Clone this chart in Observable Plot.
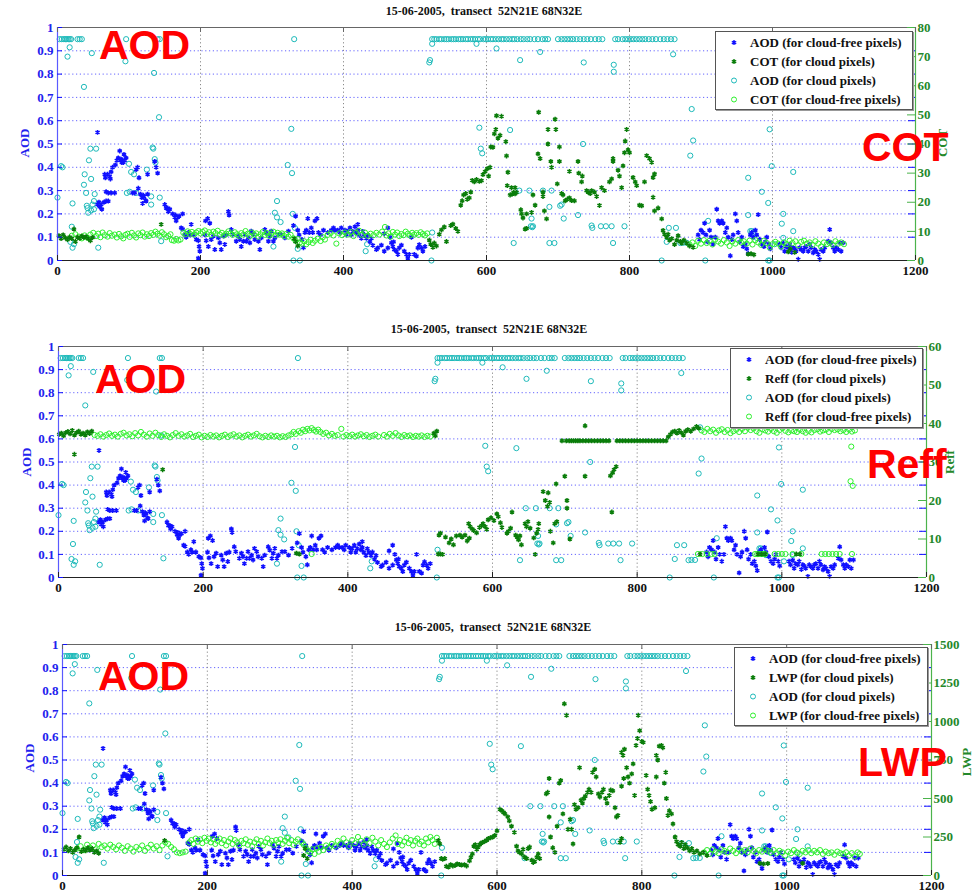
<!DOCTYPE html>
<html><head><meta charset="utf-8">
<script src="https://cdn.jsdelivr.net/npm/d3@7"></script>
<script src="https://cdn.jsdelivr.net/npm/@observablehq/plot@0.6"></script>
<style>
body{margin:0;background:#fff;width:974px;height:893px;position:relative;overflow:hidden;font-family:"Liberation Serif",serif;}
.panel{position:absolute;left:0;}
.title{position:absolute;font:bold 12px "Liberation Serif",serif;color:#111;white-space:pre;transform:translateX(-50%);}
.big{position:absolute;font:bold 41px "Liberation Sans",Arial,sans-serif;color:#ff0000;line-height:1;white-space:pre;}
.ylab{position:absolute;font:bold 13px "Liberation Serif",serif;transform:translate(-50%,-50%) rotate(-90deg);white-space:pre;}
.legend{position:absolute;background:#fff;border:1.5px solid #555;box-shadow:1px 1px 0 #999;font:bold 13px "Liberation Serif",serif;color:#111;}
.lrow{position:absolute;left:0;height:19px;display:flex;align-items:center;white-space:pre;}
</style></head><body>
<script>
// ---------- DATA ----------
const xTicks = [0, 200, 400, 600, 800, 1000, 1200];
const aodTicks = [0, 0.1, 0.2, 0.3, 0.4, 0.5, 0.6, 0.7, 0.8, 0.9, 1];
const cotTicks = [0, 10, 20, 30, 40, 50, 60, 70, 80];
const reffTicks = [0, 10, 20, 30, 40, 50, 60];
const lwpTicks = [0, 250, 500, 750, 1000, 1250, 1500];
const titleText = "15-06-2005,  transect  52N21E 68N32E";

// AOD for cloud-free pixels [x, AOD]
const aodFree = [[56,0.55],[56,0.24],[58,0.25],[59,0.23],[61,0.24],[62,0.22],[65,0.25],[68,0.255],[71,0.255],
[66,0.37],[67,0.355],[70,0.37],[73,0.36],[74,0.35],[68,0.295],[71,0.29],[75,0.29],[80,0.29],
[75,0.38],[77,0.40],[81,0.41],[83,0.43],[85,0.44],[87,0.47],[88,0.43],[90,0.42],[91,0.43],[94,0.43],[96,0.44],[93,0.455],[89,0.435],[92,0.42],
[105,0.29],[108,0.29],[110,0.39],[112,0.40],[114,0.355],[113,0.31],[116,0.285],[118,0.27],[121,0.275],[123,0.258],[124,0.255],[126,0.285],[119,0.245],[120,0.28],[126,0.37],
[136,0.425],[138,0.40],[140,0.375],[150,0.24],[152,0.225],[154,0.225],[155,0.21],[157,0.22],
[161,0.2],[164,0.185],[165,0.195],[168,0.185],[166,0.17],[170,0.19],[175,0.2],[173,0.14],[175,0.135],[178,0.11],[180,0.10],[183,0.12],[185,0.11],
[187,0.155],[190,0.11],[194,0.09],[197,0.085],[198,0.06],[199,0.04],[197,0.01],[207,0.17],[210,0.18],[213,0.16],
[206,0.11],[208,0.085],[211,0.06],[215,0.09],[218,0.105],[220,0.047],[225,0.097],[227,0.076],[232,0.105],[234,0.069],[236,0.11],[229,0.047],
[239,0.21],[240,0.195],[243,0.133],[245,0.112],[250,0.083],[253,0.105],[255,0.09],[257,0.06],[260,0.083],[262,0.112],[264,0.083],[267,0.097],[269,0.076],[271,0.126],[274,0.112],[276,0.09],[281,0.083],[283,0.047],[285,0.097],[290,0.133],[292,0.119],[295,0.083],[297,0.105],[299,0.126],[302,0.083],[304,0.097],[309,0.112],[313,0.112],[318,0.097],[323,0.126],
[330,0.15],[333,0.19],[336,0.13],[338,0.11],[342,0.09],[344,0.055],[346,0.12],[348,0.13],[350,0.18],[352,0.12],[355,0.14],[357,0.12],[360,0.17],[363,0.18],[365,0.12],[368,0.11],[372,0.13],[378,0.12],
[383,0.13],[386,0.14],[388,0.13],[392,0.13],[395,0.12],[397,0.14],[402,0.13],[404,0.11],[406,0.125],[409,0.14],[411,0.11],[413,0.125],[416,0.145],[418,0.12],[420,0.155],[420,0.13],[422,0.11],[425,0.095],[427,0.125],[429,0.11],[432,0.095],[434,0.11],[437,0.08],[439,0.095],
[441,0.065],[446,0.047],[448,0.054],[453,0.066],[457,0.115],[457,0.04],[462,0.14],[462,0.054],[465,0.1],[467,0.076],[469,0.06],[470,0.08],[471,0.047],[474,0.04],[476,0.026],[478,0.054],[481,0.066],[485,0.04],[488,0.026],[490,0.01],[492,0.026],[495,0.1],[499,0.026],[502,0.019],[504,0.054],[506,0.068],[509,0.054],[511,0.04],[514,0.06],
[896,0.11],[898,0.09],[900,0.13],[903,0.12],[905,0.16],[907,0.11],[909,0.08],[912,0.13],[914,0.1],[917,0.07],[920,0.1],[922,0.22],[924,0.17],[926,0.16],[929,0.17],[931,0.16],[934,0.12],[936,0.14],[938,0.1],[941,0.02],[943,0.09],[945,0.11],[948,0.2],[950,0.17],[952,0.12],[954,0.08],[957,0.1],[959,0.06],[962,0.07],[964,0.05],[966,0.03],[969,0.11],[971,0.12],[973,0.1],[976,0.13],[978,0.11],[980,0.197],[982,0.09],[985,0.07],[988,0.06],[990,0.08],[992,0.1],[995,0.07],[997,0.05],
[1010,0.07],[1012,0.055],[1015,0.075],[1017,0.04],[1019,0.06],[1022,0.055],[1024,0.07],[1027,0.035],[1029,0.055],[1031,0.05],[1033,0.04],[1036,0.005],[1038,0.055],[1040,0.047],[1043,0.04],[1045,0.055],[1047,0.06],[1050,0.04],[1052,0.07],[1054,0.055],[1057,0.033],[1059,0.047],[1061,0.04],[1064,0.026],[1066,0.005],[1068,0.047],[1071,0.04],[1073,0.055],[1078,0.083],[1080,0.133],[1082,0.076],[1085,0.055],[1087,0.04],[1089,0.055],[1092,0.047],[1094,0.076],[1096,0.04],[1099,0.076]];

// AOD for cloud pixels [x, AOD]
const aodCloud = [[3,.95],[6,.95],[9,.95],[11,.95],[13,.95],[15,.95],[17,.95],[19,.95],[28,.95],[31,.95],[34,.95],[96,.95],[140,.95],[143,.95],[331,.95],
[524,.95],[527,.95],[530,.95],[534,.95],[537,.95],[541,.95],[544,.95],[547,.95],[551,.95],[554,.95],[557,.95],[561,.95],[564,.95],[567,.95],[571,.95],[574,.95],[578,.95],[581,.95],[584,.95],[588,.95],[591,.95],[596,.95],[599,.95],[602,.95],[606,.95],[609,.95],[613,.95],[617,.95],[621,.95],[624,.95],[628,.95],[632,.95],[636,.95],[639,.95],[643,.95],[648,.95],[652,.95],[657,.95],[661,.95],[667,.95],[672,.95],[678,.95],[682,.95],[686,.95],
[700,.95],[705,.95],[709,.95],[713,.95],[717,.95],[721,.95],[726,.95],[731,.95],[736,.95],[741,.95],[746,.95],[752,.95],[757,.95],[762,.95],
[780,.95],[784,.95],[790,.95],[794,.95],[798,.95],[802,.95],[806,.95],[810,.95],[814,.95],[818,.95],[822,.95],[827,.95],[832,.95],[837,.95],[843,.95],[848,.95],[853,.95],[858,.95],[863,.95],
[14,0.875],[17,0.915],[48,0.89],[95,0.855],[135,0.805],[520,0.85],[521,0.86],[524,0.93],[586,0.93],[614,0.91],[647,0.86],[675,0.895],[736,0.85],[778,0.84],[778,0.81],[861,0.885],[37,0.745],[142,0.615],
[0,0.27],[5,0.405],[7,0.40],[20,0.145],[21,0.245],[18,0.08],[21,0.055],[23,0.07],[37,0.325],[40,0.29],[41,0.235],[42,0.225],[43,0.205],[38,0.37],[44,0.43],[46,0.48],[47,0.35],[54,0.48],[52,0.285],[51,0.255],[49,0.24],[51,0.22],[47,0.215],[57,0.055],[100,0.415],[103,0.38],[107,0.37],[97,0.29],[101,0.295],[110,0.29],[125,0.39],[131,0.275],[131,0.24],[133,0.485],[134,0.48],[136,0.435],[137,0.42],[143,0.27],[145,0.083],
[302,0.06],[304,0.205],[307,0.255],[307,0.185],[312,0.165],[322,0.41],[327,0.565],[328,0.375],[329,0.2],[332,0.14],[336,0.05],[330,0.0],[339,0.0],[431,0.04],[433,0.07],[523,0.0],[524,0.12],
[590,0.57],[592,0.48],[594,0.46],[633,0.56],[735,0.50],[646,0.30],[660,0.30],[679,0.30],[691,0.30],[688,0.23],[703,0.235],[705,0.24],[708,0.18],[728,0.195],[748,0.14],[747,0.15],[760,0.147],[767,0.147],[775,0.147],[793,0.147],[662,0.147],[665,0.147],[638,0.075],[688,0.075],[695,0.075],[777,0.075],[845,0.0],[852,0.08],[855,0.14],[865,0.14],[871,0.075],[875,0.076],[880,0.076],[887,0.65],[889,0.515],[885,0.45],[906,0.0],[910,0.17],[966,0.355],[966,0.195],[969,0.126],[971,0.126],[973,0.12],[978,0.097],[985,0.295],[994,0.247],[996,0.563],[999,0.405],[1029,0.38],[1015,0.2],[1013,0.158],[1029,0.126],[1015,0.097],[994,0.0],[996,0.0],[1003,0.07],[664,0.143],[663,0.18]];

// COT for cloud pixels [x, COT]
const cotCloud = [[2,8.5],[5,7.5],[8,8.8],[11,7.8],[14,7.2],[17,8.0],[20,7.5],[23,10.8],[25,6.5],[28,8.0],[31,7.6],[34,8.4],[37,7.9],[40,8.2],[43,7.5],[46,6.8],[49,7.9],[145,12.4],[331,7.5],[333,6.5],[336,5.0],
[520,7.0],[522,5.5],[525,4.5],[527,6.0],[530,5.0],[534,9.0],[537,10.5],[541,11.5],[544,6.5],[550,12.0],[553,12.5],[557,11.0],[560,10.0],[564,19.0],[566,20.5],[568,22.5],[571,23.0],[573,21.0],[576,21.5],[578,23.5],[580,27.5],[583,27.0],[586,27.8],[590,27.2],[593,27.4],[595,29.5],[598,30.5],[601,31.5],[605,32.0],[603,29.0],[606,39.0],[609,38.9],[611,43.5],[613,45.0],[616,42.0],[619,43.0],[614,49.7],[621,49.5],[627,40.8],[628,35.9],[630,30.3],[629,25.7],[633,22.5],[636,22.8],[638,23.4],[640,22.9],[642,23.4],[635,25.0],[640,25.0],[648,17.4],[649,16.0],[651,14.6],[656,16.0],[663,16.5],[654,10.8],[656,11.0],[665,22.5],[668,19.0],[673,50.9],[672,36.6],[675,35.0],[679,22.0],[679,23.5],[681,17.0],[684,14.3],[686,45.0],[686,40.0],[690,34.0],[691,32.0],[696,48.5],[697,45.0],[699,26.3],[702,39.0],[702,34.0],[705,23.0],[707,22.5],[710,20.5],[713,21.0],[716,21.5],[719,20.6],[723,20.5],[716,30.6],[728,34.0],[729,30.0],[733,27.0],[734,29.0],[740,24.0],[742,23.5],[745,23.0],[747,24.0],[751,23.5],[754,22.0],[758,18.9],[761,25.0],[765,24.0],[772,27.0],[775,28.0],[777,34.0],[777,35.0],[784,31.0],[786,29.0],[789,25.0],[791,32.5],[793,37.0],[794,41.0],[796,45.0],[798,38.0],[800,37.0],[805,28.5],[808,27.0],[810,25.7],[814,19.0],[817,18.8],[821,27.0],[824,36.0],[828,35.0],[831,33.7],[833,28.5],[835,29.7],[833,21.7],[835,17.0],[840,18.0],[845,14.3],[847,10.3],[849,9.0],[852,8.0],[854,9.0],[856,7.0],[859,7.5],[863,5.5],[866,7.0],[868,8.5],[871,6.5],[873,6.0],[876,7.0],[880,6.0],[884,5.0],[889,4.5],
[966,2.2],[970,2.3],[974,2.0],[1022,3.0],[1025,4.0],[1031,2.8]];

// COT for cloud-free pixels [x, COT]
const cotFree = [[20,8.5],[25,9.0],[30,8.2],[34,7.6],[38,8.6],[42,7.8],[46,8.9],[50,9.5],[54,8.4],[57,9.2],[60,8.0],[63,9.6],[66,8.7],[70,8.2],[73,9.4],[76,8.5],[80,8.9],[83,7.9],[86,9.1],[89,8.3],[92,7.6],[95,8.8],[98,9.2],[101,8.1],[104,9.5],[107,8.6],[110,7.9],[113,9.3],[116,8.7],[119,9.6],[122,8.2],[125,9.0],[128,8.4],[131,9.4],[134,8.8],[137,9.9],[140,9.2],[143,8.5],[146,9.7],[149,9.0],[152,8.0],[155,8.4],[158,9.0],[160,7.0],[163,6.8],[166,7.4],[169,6.9],[172,7.2],
[176,9.5],[179,9.0],[182,10.0],[185,9.2],[188,9.8],[191,8.9],[194,9.6],[197,10.1],[200,9.3],[203,9.8],[206,10.3],[209,9.1],[212,9.7],[215,8.8],[218,9.9],[221,9.4],[224,10.2],[227,8.9],[230,9.5],[233,8.6],[236,9.2],[239,10.0],[242,9.3],[245,8.8],[248,9.7],[251,9.0],[254,8.5],[257,9.4],[260,8.9],[263,10.1],[266,9.2],[269,8.4],[272,9.6],[275,8.9],[278,9.3],[281,8.2],[284,9.0],[287,9.8],[290,8.8],[293,9.4],[296,8.5],[299,9.2],[302,9.9],[305,8.7],[308,9.5],[311,8.9],[314,9.3],[317,8.4],[320,9.1],[323,8.2],[326,8.8],
[330,7.6],[333,6.8],[336,7.4],[339,6.2],[342,5.8],[345,6.6],[348,5.6],[351,6.3],[354,7.1],[357,6.0],[360,6.8],[364,7.5],[368,6.7],[371,8.0],[374,7.2],
[378,8.8],[382,9.4],[386,8.6],[390,5.8],[394,9.3],[398,8.7],[402,9.6],[406,8.9],[410,9.8],[414,8.4],[418,9.5],[422,10.2],[426,8.8],[430,9.6],[434,8.5],[438,9.2],[442,8.7],[446,9.5],[450,8.9],[454,9.9],[458,11.5],[460,8.6],[463,9.3],[466,8.2],[469,9.8],[472,8.9],[475,9.6],[478,8.4],[481,9.1],[484,8.7],[487,9.9],[490,9.2],[493,8.6],[496,9.5],[499,8.9],[502,9.4],[505,8.8],[508,9.7],[511,9.1],[514,8.6],[517,9.3],
[884,5.5],[888,6.2],[892,5.0],[896,6.8],[900,5.8],[904,7.0],[908,6.0],[912,6.8],[916,5.5],[920,7.2],[924,6.5],[928,5.8],[932,7.0],[936,6.2],[940,5.0],[944,6.6],[948,5.8],[952,7.0],[956,6.2],[960,6.6],[964,5.8],[968,6.8],[972,5.5],[976,7.0],[980,6.2],[984,5.4],[988,6.8],[992,6.0],[996,4.5],[1000,5.6],[1004,6.4],[1008,5.8],[1012,4.8],[1016,6.2],[1020,5.6],[1024,6.8],[1028,6.0],[1032,6.6],[1036,5.2],[1040,6.4],[1044,6.8],[1048,5.8],[1052,6.2],[1056,5.4],[1060,6.6],[1064,5.8],[1068,4.8],[1072,6.2],[1076,5.6],[1080,6.0],[1084,5.4],[1088,6.6],[1092,5.8],[1096,6.2],[1100,5.6]];

// Reff for cloud pixels [x, Reff]
const reffCloud = [[1,37.2],[4,37.5],[7,36.8],[10,37.6],[13,37.9],[16,37.3],[19,38.2],[22,37.0],[25,37.6],[28,38.0],[31,37.2],[34,37.5],[37,37.0],[40,37.8],[43,37.4],[46,38.0],[22,32.0],[144,28.0],[333,6.1],[329,6.3],
[519,37.5],[521,36.8],[523,38.0],
[525,6.1],[528,6.1],[531,6.0],[528,11.5],[526,11.0],[535,10.5],[540,9.0],[543,10.0],[546,8.5],[550,10.8],[555,11.0],[558,10.5],[562,11.0],[565,9.5],[568,10.2],[567,14.0],[569,13.2],[572,12.6],[574,12.2],[578,11.6],[582,13.0],[585,13.5],[587,14.0],[590,13.2],[592,12.5],[594,15.0],[598,15.5],[602,14.8],[606,16.5],[608,15.8],[611,14.2],[613,13.0],[620,11.5],[622,12.0],[625,12.8],[627,17.0],[632,11.0],[634,10.5],[636,9.8],[638,10.8],[640,8.5],[645,14.0],[647,13.2],[649,14.5],[652,12.8],[657,10.3],[659,6.0],[661,11.5],[663,12.5],[664,14.0],[670,22.3],[673,20.0],[676,18.5],[677,22.0],[679,19.5],[680,12.0],[684,9.0],[686,14.0],[689,14.5],[688,24.3],[700,26.3],[703,18.0],[703,20.0],[707,10.0],
[696,35.5],[702,35.5],[706,35.5],[709,35.5],[712,35.5],[715,35.5],[718,35.5],[721,35.5],[725,35.5],[729,35.5],[733,35.5],[737,35.5],[741,35.5],[745,35.5],[749,35.5],[753,35.5],[757,35.5],[761,35.5],
[728,39.4],[728,26.3],[763,26.4],[766,27.2],[768,28.0],[771,28.8],[765,17.0],
[772,35.5],[776,35.5],[780,35.5],[784,35.5],[788,35.5],[792,35.5],[796,35.5],[800,35.5],[804,35.5],[808,35.5],[812,35.5],[816,35.5],[820,35.5],[824,35.5],[828,35.5],[832,35.5],[836,35.5],[840,35.5],
[843,36.5],[846,37.2],[849,37.8],[852,38.0],[855,37.5],[858,38.2],[861,37.6],[864,37.0],[867,38.0],[870,38.4],[874,38.0],[878,38.6],[882,39.2],[885,38.8],
[887,6.1],[967,6.1],[972,6.1],[977,6.1],[1020,6.1],[1025,6.1]];

// Reff for cloud-free pixels [x, Reff]
const reffFree = [[50,37.0],[54,36.8],[58,37.2],[62,36.6],[66,37.0],[70,37.4],[74,36.8],[78,37.1],[82,36.6],[86,37.3],[90,37.6],[94,36.9],[98,37.2],[102,36.7],[106,37.5],[110,36.9],[114,37.8],[118,37.1],[122,36.6],[126,37.4],[130,36.8],[134,37.6],[138,37.0],[142,36.5],[146,37.2],[150,36.8],[154,36.4],[158,37.0],[162,37.5],[166,36.8],[170,37.2],[174,36.6],[178,36.9],[182,37.3],[186,36.5],[190,36.8],[194,37.1],[198,36.4],[202,36.8],[206,36.5],[210,37.0],[214,36.6],[218,36.9],[222,36.4],[226,36.8],[230,37.1],[234,36.5],[238,36.9],[242,37.2],[246,36.6],[250,36.9],[254,36.4],[258,36.8],[262,37.1],[266,36.6],[270,36.9],[274,37.3],[278,36.7],[282,36.4],[286,36.8],[290,36.5],[294,36.9],[298,36.6],[302,36.8],[306,36.4],[310,36.7],[314,36.5],[318,36.9],
[322,37.2],[325,37.8],[328,37.3],[332,38.0],[335,37.6],[338,38.4],[341,38.0],[344,38.6],[347,38.2],[350,38.8],[353,38.3],[356,37.9],[359,38.4],[362,37.8],[366,37.3],[370,37.6],[374,36.9],[378,37.3],[382,36.8],[386,37.0],[391,38.6],[394,36.6],[398,37.0],[402,36.7],[406,37.1],[410,36.6],[414,36.9],[418,37.2],[422,36.7],[426,37.0],[430,36.5],[434,36.8],[438,37.1],[442,36.6],[450,37.0],[454,36.6],[458,37.3],[462,36.8],[466,37.5],[470,36.9],[474,36.5],[478,37.0],[482,36.7],[486,36.9],[490,36.5],[494,36.8],[498,36.6],[502,36.9],[506,36.5],[510,36.8],[514,36.6],[350,6.1],
[889,38.2],[893,37.8],[897,38.6],[901,38.0],[905,38.4],[909,37.6],[913,38.2],[917,38.5],[921,37.8],[925,38.3],[929,37.5],[933,38.0],[937,38.4],[941,37.8],[945,38.6],[949,38.0],[953,38.9],[957,38.3],[961,38.7],[965,38.0],[969,37.6],[973,38.5],[977,38.2],[981,37.9],[985,38.6],[989,38.0],[993,37.6],[997,38.3],[1001,38.8],[1005,38.1],[1009,37.7],[1013,38.2],[1017,38.0],[1021,37.8],[1025,38.4],[1029,38.0],[1033,37.6],[1037,38.1],[1041,37.7],[1045,38.3],[1049,38.5],[1053,37.9],[1057,38.2],[1061,38.4],[1065,37.8],[1069,38.6],[1073,38.3],[1077,38.5],[1081,38.0],[1085,38.3],[1089,37.8],[1093,38.4],[1097,37.9],[1101,38.2],
[1096,34.0],[1095,25.0],[1098,23.8],
[884,6.1],[890,6.1],[896,6.1],[903,6.1],[907,6.1],[963,6.1],[966,6.1],[970,6.1],[974,6.1],[977,6.1],[990,6.1],[995,6.1],[1000,6.1],[1005,6.1],[1015,6.1],[1027,6.1],[1055,6.1],[1060,6.1],[1065,6.1],[1070,6.1],[1075,6.1],[1080,6.1],[1097,6.1]];

// LWP for cloud pixels [x, LWP]
const lwpCloud = [[2,170],[5,185],[8,160],[11,175],[14,150],[17,165],[20,180],[23,250],[26,155],[29,170],[32,160],[35,180],[38,165],[41,175],[44,150],[47,160],[50,145],[141,227],[333,130],[335,175],[338,110],
[519,227],[521,205],[523,110],[525,105],[528,110],[530,60],[533,55],[536,70],[539,62],[542,65],[545,75],[548,72],[551,68],[555,70],[558,62],
[562,95],[564,120],[566,140],[568,190],[570,200],[572,170],[574,185],[576,200],[578,210],[580,215],[583,222],[586,230],[588,240],[591,245],[594,250],[597,260],[600,290],
[604,430],[607,420],[609,410],[611,400],[615,380],[617,355],[620,320],[624,280],[627,190],[629,160],[631,150],[634,140],[636,170],[638,120],[641,110],[643,175],[645,185],[648,100],[650,85],[652,90],[655,120],[657,140],[659,110],
[668,530],[670,540],[672,630],[672,380],[674,250],[677,180],[680,150],[683,320],[686,600],[688,617],[691,400],[693,1115],[696,1040],[698,300],[701,365],[703,300],[705,205],[707,460],[709,430],[712,440],[714,700],[716,490],[718,470],[720,500],[722,515],[725,540],[727,560],[730,540],[732,670],[735,690],[737,640],[740,530],[742,510],[745,540],[747,560],[750,500],[752,470],[755,520],[757,555],[760,550],[763,440],[765,380],[767,390],[770,215],[772,240],[772,800],[774,780],[776,820],[772,580],[775,630],[779,700],[781,640],[783,600],[786,660],[788,725],[790,520],[792,845],[794,890],[795,1040],[797,940],[800,870],[802,865],[806,650],[808,560],[810,520],[812,480],[814,430],[818,440],[820,640],[820,780],[822,750],[824,840],[827,845],[829,830],[831,600],[833,670],[834,500],[836,390],[838,420],[841,400],[843,335],[846,250],[848,220],[850,200],[853,190],[855,215],[858,175],[860,200],[863,180],[866,160],[869,175],[872,150],[876,160],[880,140],[885,150],[890,130],
[963,80],[968,75],[974,78],[1022,80]];

// LWP for cloud-free pixels [x, LWP]
const lwpFree = [[20,175],[25,190],[30,165],[34,200],[38,180],[42,195],[46,170],[50,205],[54,185],[58,195],[62,175],[66,200],[70,185],[74,170],[78,195],[82,180],[86,160],[90,190],[94,175],[98,155],[102,185],[106,170],[110,195],[114,160],[118,180],[122,200],[126,175],[130,190],[134,165],[138,195],[142,215],[146,205],[150,185],[154,170],[158,150],[162,145],[166,150],[170,155],
[175,215],[178,230],[181,205],[184,240],[187,220],[190,235],[193,210],[196,245],[199,225],[202,240],[205,215],[208,235],[211,205],[214,225],[217,240],[220,210],[223,230],[226,195],[229,220],[232,240],[235,205],[238,230],[241,215],[244,195],[247,225],[250,210],[253,235],[256,200],[259,220],[262,190],[265,215],[268,235],[271,205],[274,225],[277,195],[280,215],[283,240],[286,210],[289,225],[292,200],[295,230],[298,215],[301,235],[304,205],[307,225],[310,245],[313,210],[316,230],[319,200],[322,220],[325,235],
[330,215],[333,200],[336,180],[339,160],[342,150],[345,170],[348,140],[351,175],[354,155],[357,185],[360,165],[364,195],[368,180],[372,205],[376,190],
[380,225],[384,205],[388,240],[392,215],[396,190],[400,230],[404,210],[408,250],[412,225],[416,200],[420,235],[424,210],[428,245],[432,220],[436,195],[440,230],[444,205],[448,185],[452,215],[456,240],[460,260],[463,205],[466,230],[469,195],[472,220],[475,245],[478,210],[481,230],[484,195],[487,225],[490,240],[493,205],[496,220],[499,195],[502,240],[505,215],[508,250],[511,230],[514,205],[517,245],
[886,150],[890,165],[894,140],[898,170],[902,155],[906,145],[910,170],[914,160],[918,150],[922,175],[926,160],[930,145],[934,170],[938,155],[942,165],[946,150],[950,175],[954,160],[958,145],[962,165],[966,155],[970,170],[974,160],[978,150],[982,165],[986,145],[990,160],[994,150],[998,130],[1002,155],[1006,145],[1010,165],[1014,150],[1018,140],[1022,160],[1026,150],[1030,165],[1034,145],[1038,160],[1042,150],[1046,165],[1050,140],[1054,155],[1058,145],[1062,150],[1066,135],[1070,155],[1074,145],[1078,140],[1082,150],[1086,130],[1090,145],[1094,125],[1098,150],[1101,140]];

// ---------- STYLE ----------
const C = {blue:"#1010ff", blueLab:"#2222ee", grid:"#4a4aff", dgreen:"#0a7d0a", lgreen:"#2df02d", cyan:"#1dbaba",
  gLine:"#4bb34b", gLab:"#24882a"};

function addDiv(cls, text, style) {
  const d = document.createElement("div");
  d.className = cls; d.textContent = text;
  Object.assign(d.style, style);
  document.body.appendChild(d);
  return d;
}

function legendBox(left, top, w, h, name) {
  const box = document.createElement("div");
  box.className = "legend";
  Object.assign(box.style, {left:left+"px", top:top+"px", width:w+"px", height:h+"px"});
  const rows = [
    ["star", C.blue, "AOD (for cloud-free pixels)"],
    ["star", C.dgreen, name + " (for cloud pixels)"],
    ["circ", C.cyan, "AOD (for cloud pixels)"],
    ["circ", C.lgreen, name + " (for cloud-free pixels)"]
  ];
  rows.forEach((r, i) => {
    const row = document.createElement("div");
    row.className = "lrow";
    row.style.top = (i * 19 + 1) + "px";
    const mk = r[0] === "star"
      ? `<path d="M18,7V12M15.8,8.3L20.2,10.8M15.8,10.8L20.2,8.3" stroke="${r[1]}" stroke-width="1.4"/>`
      : `<circle cx="18" cy="9.5" r="2.5" fill="none" stroke="${r[1]}" stroke-width="1"/>`;
    row.innerHTML = `<svg width="34" height="19">${mk}</svg><span>${r[2]}</span>`;
    box.appendChild(row);
  });
  document.body.appendChild(box);
}

function panel(o) {
  const W = 974;
  const pw = W - o.ml - o.mr, ph = o.height - o.mt - o.mb;
  const gridY = aodTicks.filter(t => t > 0 && t < 1);
  const gridX = xTicks.filter(t => t > 0 && t < 1200);
  const rScaled = o.rTicks.map(t => t / o.rMax);
  const chart = Plot.plot({
    width: W, height: o.height,
    marginLeft: o.ml, marginRight: o.mr, marginTop: o.mt, marginBottom: o.mb,
    x: {domain: [0, 1200]},
    y: {domain: [0, 1]},
    style: {fontFamily: "Liberation Serif, serif", fontSize: "13px", fontWeight: "bold", background: "transparent", overflow: "visible"},
    marks: [
      Plot.ruleY(gridY, {y: d => d, stroke: C.grid, strokeDasharray: "1.2,2.6", strokeOpacity: 0.85}),
      Plot.ruleX(gridX, {x: d => d, stroke: "#8a8a8a", strokeDasharray: "1.2,2.6"}),
      Plot.dot(aodCloud, {x: d => d[0], y: d => d[1], r: 2.6, stroke: C.cyan, strokeWidth: 1, fill: "none"}),
      Plot.dot(aodFree, {x: d => d[0], y: d => d[1], symbol: "asterisk", r: 2.3, stroke: C.blue, strokeWidth: 1.5}),
      Plot.dot(o.free, {x: d => d[0], y: d => d[1] / o.rMax, r: 2.6, stroke: C.lgreen, strokeWidth: 1, fill: "none"}),
      Plot.dot(o.cloud, {x: d => d[0], y: d => d[1] / o.rMax, symbol: "asterisk", r: 2.3, stroke: C.dgreen, strokeWidth: 1.5}),
      // frame
      Plot.ruleY([1], {y: d => d, stroke: "#666", strokeWidth: 1}),
      Plot.ruleY([0], {y: d => d, stroke: "#222", strokeWidth: 1.2}),
      Plot.ruleX([0], {x: d => d, stroke: "#5a5aff", strokeWidth: 1.2}),
      Plot.ruleX([1200], {x: d => d, stroke: C.gLine, strokeWidth: 1.2}),
      // inward ticks
      Plot.tickY(aodTicks, {y: d => d, stroke: C.blue, insetRight: pw - 5}),
      Plot.tickY(aodTicks, {y: d => d, stroke: C.blue, insetLeft: pw - 7}),
      Plot.tickY(rScaled, {y: d => d, stroke: C.gLine, insetLeft: pw - 8}),
      Plot.tickX(xTicks, {x: d => d, stroke: "#222", insetTop: ph - 5}),
      Plot.tickX(xTicks, {x: d => d, stroke: "#666", insetBottom: ph - 5}),
      // axes
      Plot.axisX(xTicks, {tickSize: 0, tickPadding: 5, tickFormat: d => String(d), color: "#111", label: null}),
      Plot.axisY(aodTicks, {tickSize: 0, tickPadding: 4, tickFormat: d => d === 0 ? "0" : d === 1 ? "1" : d.toFixed(1), color: C.blueLab, label: null}),
      Plot.axisY(rScaled, {anchor: "right", tickSize: 0, tickPadding: 2, tickFormat: d => String(Math.round(d * o.rMax)), color: C.gLab, label: null})
    ]
  });
  chart.classList.add("panel");
  chart.style.top = o.top + "px";
  chart.style.position = "absolute";
  document.body.appendChild(chart);
}

// ---------- PANELS ----------
panel({top: 0, height: 290, ml: 57, mr: 59, mt: 27, mb: 30, rMax: 80, rTicks: cotTicks, cloud: cotCloud, free: cotFree});
panel({top: 305, height: 295, ml: 58, mr: 48, mt: 41, mb: 23, rMax: 60, rTicks: reffTicks, cloud: reffCloud, free: reffFree});
panel({top: 610, height: 283, ml: 62, mr: 43, mt: 34, mb: 18, rMax: 1500, rTicks: lwpTicks, cloud: lwpCloud, free: lwpFree});

// titles
addDiv("title", titleText, {left: "484px", top: "4px"});
addDiv("title", titleText, {left: "489px", top: "322px"});
addDiv("title", titleText, {left: "493px", top: "620px"});

// axis labels
addDiv("ylab", "AOD", {left: "25px", top: "143px", color: C.blueLab});
addDiv("ylab", "AOD", {left: "27px", top: "462px", color: C.blueLab});
addDiv("ylab", "AOD", {left: "30px", top: "758px", color: C.blueLab});
addDiv("ylab", "COT", {left: "943px", top: "143px", color: C.gLab});
addDiv("ylab", "Reff", {left: "950px", top: "462px", color: C.gLab});
addDiv("ylab", "LWP", {left: "967px", top: "762px", color: C.gLab});

// legends
legendBox(715, 31, 196, 77, "COT");
legendBox(730, 348, 191, 78, "Reff");
legendBox(734, 647, 192, 77, "LWP");

// big red annotations
addDiv("big", "AOD", {left: "99px", top: "25px"});
addDiv("big", "COT", {left: "862px", top: "127px"});
addDiv("big", "AOD", {left: "95px", top: "359px"});
addDiv("big", "Reff", {left: "867px", top: "444px"});
addDiv("big", "AOD", {left: "98px", top: "656px"});
addDiv("big", "LWP", {left: "858px", top: "742px"});
</script>
</body></html>
